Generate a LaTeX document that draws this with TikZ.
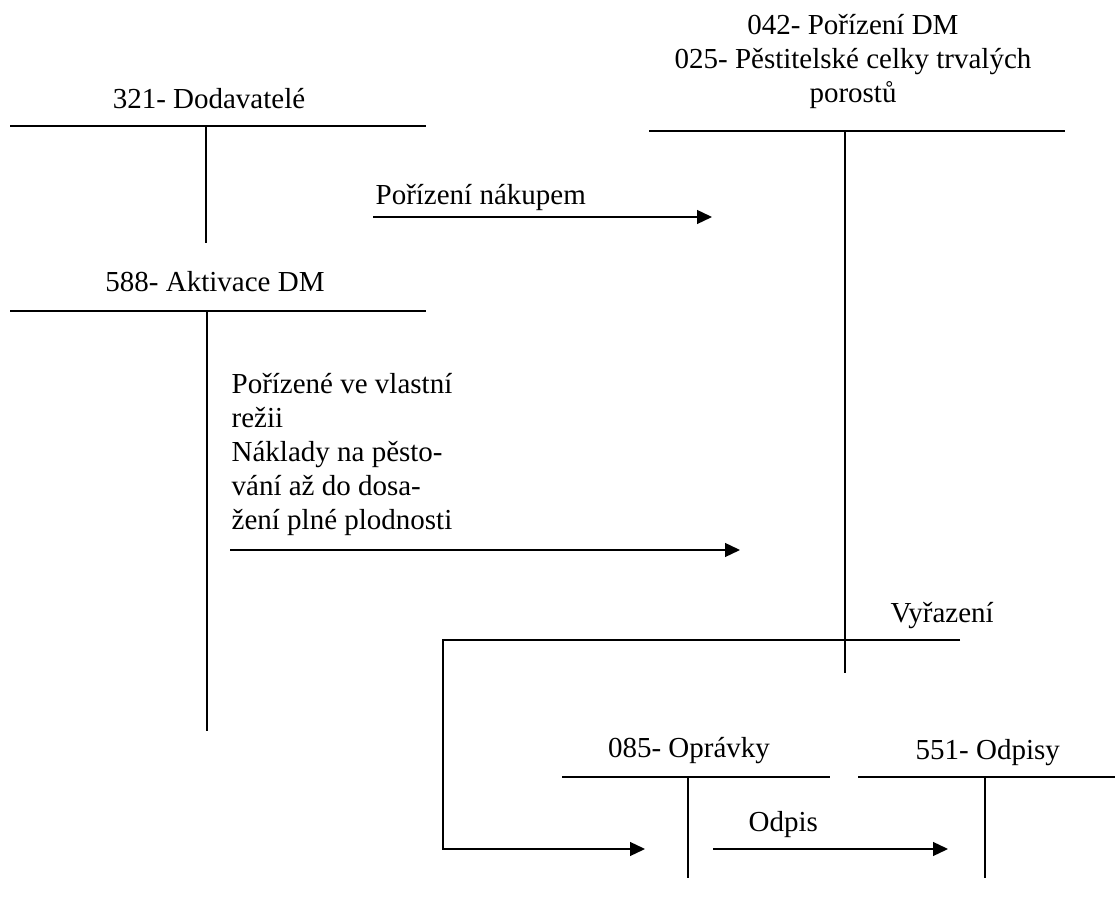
\documentclass[tikz,border=0pt]{standalone}
\usepackage{fontspec}
\setmainfont{Liberation Serif}
\usetikzlibrary{arrows.meta}
\begin{document}
\begin{tikzpicture}[x=0.5pt,y=-0.5pt,line width=0.65pt,
  every node/.style={font=\fontsize{14.5pt}{17pt}\selectfont,inner sep=0pt},
  post/.style={-{Triangle[length=7.5pt,width=7pt]}}]
\useasboundingbox (0,0) rectangle (1115,897);
% 321
\draw (10,126) -- (426,126);
\draw (206,126) -- (206,243);
\node[anchor=base] (dod) at (209,109) {321- Dodavatelé};
% 042 / 025
\draw (649,131) -- (1065,131);
\draw (845,131) -- (845,673);
\node[anchor=base,align=center] (por) at (853,103) {042- Pořízení DM\\025- Pěstitelské celky trvalých\\porostů};
% 588
\draw (10,311) -- (426,311);
\draw (207,311) -- (207,731);
\node[anchor=base] (akt) at (215,292) {588- Aktivace DM};
% 085 a 551
\draw (562,777) -- (830,777);
\draw (688,777) -- (688,878);
\node[anchor=base] (opr) at (689,758) {085- Oprávky};
\draw (858,777) -- (1115,777);
\draw (985,777) -- (985,878);
\node[anchor=base west] (ods) at (915,760) {551- Odpisy};
% pohyby
\coordinate (nakA) at (373,217);
\coordinate (nakB) at (712,217);
\draw[post] (nakA) -- (nakB);
\node[anchor=base west] (nak) at (375,205) {Pořízení nákupem};
\coordinate (vlA) at (230,550);
\coordinate (vlB) at (740,550);
\draw[post] (vlA) -- (vlB);
\node[anchor=base west,align=left] (vl) at (231,530) {Pořízené ve vlastní\\režii\\Náklady na pěsto-\\vání až do dosa-\\žení plné plodnosti};
\coordinate (vyrA) at (960,640);
\coordinate (vyrB) at (443,640);
\coordinate (vyrC) at (443,849);
\coordinate (vyrD) at (645,849);
\draw[post] (vyrA) -- (vyrB) -- (vyrC) -- (vyrD);
\node[anchor=base west] (vyr) at (890,623) {Vyřazení};
\coordinate (odA) at (713,849);
\coordinate (odB) at (948,849);
\draw[post] (odA) -- (odB);
\node[anchor=base west] (odp) at (748,832) {Odpis};
\end{tikzpicture}
\end{document}
